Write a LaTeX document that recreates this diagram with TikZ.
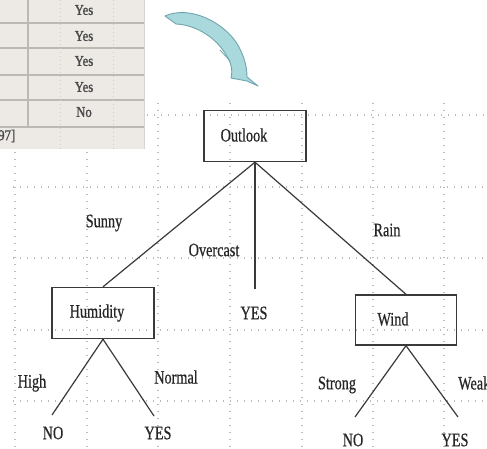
\documentclass[tikz,border=0pt]{standalone}
\usepackage{fontspec}
\setmainfont{Liberation Serif}
\newfontfamily\treefont{Liberation Serif}[FakeBold=0.6]
\newfontfamily\tablefont{Liberation Serif}[FakeBold=1.6]
\definecolor{tablebg}{HTML}{EDEAE6}
\definecolor{tablerule}{HTML}{BDB8B2}
\definecolor{tabletext}{HTML}{4A4A4A}
\definecolor{gridgray}{HTML}{BBBBBB}
\definecolor{arrowfill}{HTML}{A9D8DD}
\definecolor{arrowedge}{HTML}{6FA6AD}
\definecolor{inkgray}{HTML}{3A3A3A}
\newcommand{\narrow}[1]{\scalebox{0.75}[1]{#1}}
\newcommand{\tnarrow}[1]{\scalebox{0.85}[1]{#1}}
\begin{document}
\begin{tikzpicture}[x=1pt,y=-1pt,
  gridline/.style={gridgray, line width=1.1pt, dash pattern=on 1.1pt off 5.9pt},
  treebox/.style={draw=inkgray, line width=1.4pt, minimum width=102pt, minimum height=51pt, inner sep=0pt},
  lbl/.style={font=\treefont\fontsize{19}{21}\selectfont, text=black!85, inner sep=0pt},
  tlbl/.style={font=\tablefont\fontsize{15}{17}\selectfont, text=tabletext, inner sep=0pt},
  branch/.style={draw=inkgray, line width=1.2pt}]
\useasboundingbox (0,0) rectangle (487,449);
\fill[white] (0,0) rectangle (487,449);

% table fragment in the upper left corner
\fill[tablebg] (0,0) rectangle (144,149);
\foreach \yy in {23,48,75,100,127}
  \draw[tablerule, line width=1.2pt] (0,\yy) -- (144,\yy);
\draw[tablerule, line width=1.2pt] (28,0) -- (28,127);
\draw[tablerule!60, line width=0.8pt] (144,0) -- (144,149);
\foreach \xx in {60,113}
  \draw[tablerule!70, line width=0.8pt, dash pattern=on 1pt off 3pt] (\xx,0) -- (\xx,149);
\node[tlbl] (y1) at (84,10) {\tnarrow{Yes}};
\node[tlbl] (y2) at (84,36) {\tnarrow{Yes}};
\node[tlbl] (y3) at (84,61) {\tnarrow{Yes}};
\node[tlbl] (y4) at (84,87) {\tnarrow{Yes}};
\node[tlbl] (n5) at (84,112) {\tnarrow{No}};
\node[tlbl, anchor=west] (ref) at (-2,136) {\tnarrow{97]}};

% dotted background grid
\foreach \xx in {15,87}
  \draw[gridline] (\xx,152) -- (\xx,449);
\foreach \xx in {158,230,302,373,444}
  \draw[gridline] (\xx,103) -- (\xx,449);
\draw[gridline] (147,115) -- (487,115);
\foreach \yy in {187,258,330,401}
  \draw[gridline] (13,\yy) -- (487,\yy);

% curved arrow
\draw[arrowedge, fill=arrowfill, line width=0.9pt, line join=round]
  (165,16) .. controls (190,5) and (222,22) .. (236,42)
  .. controls (243,53) and (247,65) .. (247,77)
  -- (258,86)
  -- (247,81) -- (231,78)
  .. controls (233,70) and (231,62) .. (226,55)
  .. controls (218,40) and (198,25) .. (176,24)
  -- cycle;
\draw[arrowedge, line width=0.8pt] (220,50) -- (230,61);

% decision tree
\node[treebox] (outlook) at (255,136) {};
\node[lbl] (outlooktxt) at (244,135) {\narrow{Outlook}};
\node[treebox] (humidity) at (103,313) {};
\node[lbl] (humiditytxt) at (97,313) {\narrow{Humidity}};
\node[treebox, minimum width=101pt, minimum height=50pt] (wind) at (406,320) {};
\node[lbl] (windtxt) at (393,319) {\narrow{Wind}};

\coordinate (ovend) at (255,289);
\node[lbl] (yesmid) at (254,313) {\narrow{YES}};
\draw[branch] (outlook.south) -- (humidity.north);
\draw[branch] (outlook.south) -- (ovend);
\draw[branch] (outlook.south) -- (wind.north);
\node[lbl] (sunny) at (104,223) {\narrow{Sunny}};
\node[lbl] (overcast) at (214,250) {\narrow{Overcast}};
\node[lbl] (rain) at (387,230) {\narrow{Rain}};

\coordinate (hno) at (52,415);
\coordinate (hyes) at (154,416);
\draw[branch] (humidity.south) -- (hno);
\draw[branch] (humidity.south) -- (hyes);
\node[lbl] (high) at (32,383) {\narrow{High}};
\node[lbl] (normal) at (176,377) {\narrow{Normal}};
\node[lbl] (noleft) at (53,433) {\narrow{NO}};
\node[lbl] (yesleft) at (158,433) {\narrow{YES}};

\coordinate (wno) at (355,417);
\coordinate (wyes) at (458,417);
\draw[branch] (wind.south) -- (wno);
\draw[branch] (wind.south) -- (wyes);
\node[lbl] (strong) at (337,385) {\narrow{Strong}};
\node[lbl, anchor=west] (weak) at (458,383) {\narrow{Weak}};
\node[lbl] (noright) at (353,440) {\narrow{NO}};
\node[lbl] (yesright) at (455,440) {\narrow{YES}};
\end{tikzpicture}
\end{document}
